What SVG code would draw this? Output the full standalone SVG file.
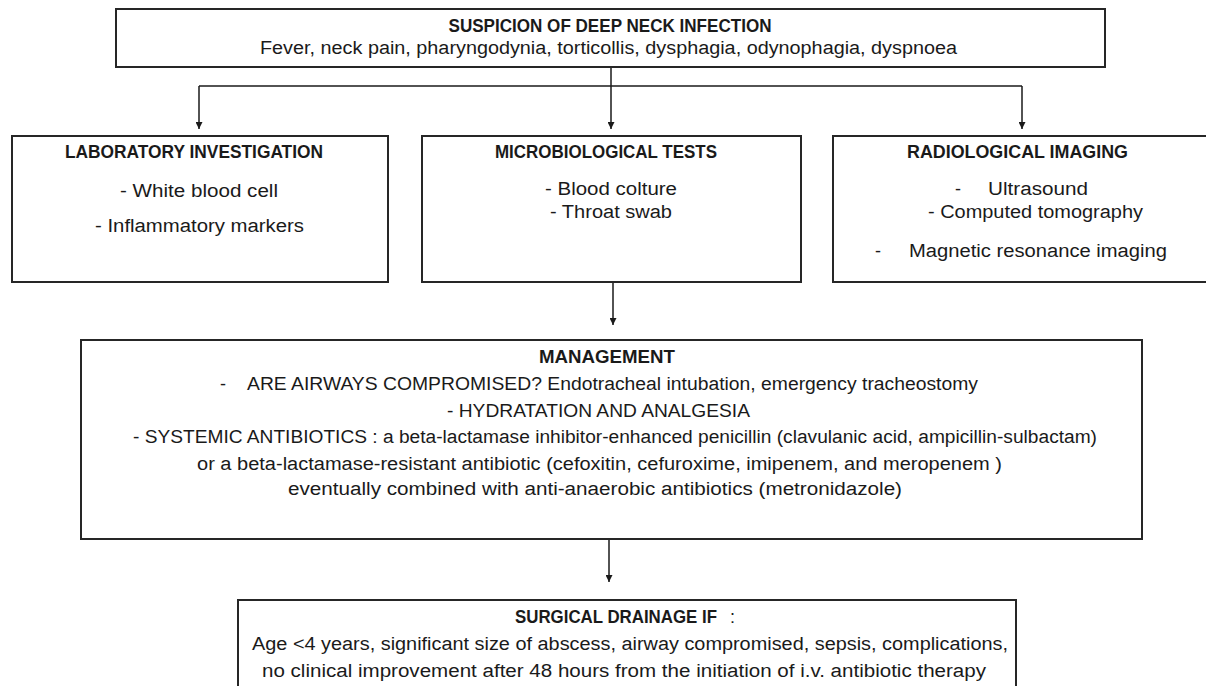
<svg xmlns="http://www.w3.org/2000/svg" width="1206" height="686" viewBox="0 0 1206 686">
<style>
.box{fill:#fff;stroke:#262626;stroke-width:2}
.t{font-family:"Liberation Sans",Arial,sans-serif;font-size:18px;fill:#1a1a1a}
.b{font-weight:bold}
.c{text-anchor:middle}
.ln{fill:none;stroke:#1a1a1a;stroke-width:1.5}
</style>
<defs>
<marker id="ah" viewBox="0 0 10 10" refX="10" refY="5" markerWidth="7" markerHeight="7" markerUnits="userSpaceOnUse" orient="auto">
<path d="M0,0 L10,5 L0,10 z" fill="#1a1a1a"/>
</marker>
</defs>
<rect width="1206" height="686" fill="#fff"/>
<g id="connectors">
<path class="ln" d="M611,67 V129" marker-end="url(#ah)"/>
<path class="ln" d="M199,86 H1022"/>
<path class="ln" d="M199,86 V129" marker-end="url(#ah)"/>
<path class="ln" d="M1022,86 V129" marker-end="url(#ah)"/>
<path class="ln" d="M613,282 V325" marker-end="url(#ah)"/>
<path class="ln" d="M609,539 V582" marker-end="url(#ah)"/>
</g>
<g id="suspicion">
<rect class="box" x="116" y="9" width="989" height="58"/>
<text class="t b c" x="610" y="32" textLength="323" lengthAdjust="spacingAndGlyphs">SUSPICION OF DEEP NECK INFECTION</text>
<text class="t" x="260" y="54" textLength="697" lengthAdjust="spacingAndGlyphs">Fever, neck pain, pharyngodynia, torticollis, dysphagia, odynophagia, dyspnoea</text>
</g>
<g id="laboratory">
<rect class="box" x="12" y="136" width="376" height="146"/>
<text class="t b" x="65" y="158" textLength="258" lengthAdjust="spacingAndGlyphs">LABORATORY INVESTIGATION</text>
<text class="t" x="120" y="197" textLength="158" lengthAdjust="spacingAndGlyphs">- White blood cell</text>
<text class="t" x="95" y="232" textLength="209" lengthAdjust="spacingAndGlyphs">- Inflammatory markers</text>
</g>
<g id="microbiological">
<rect class="box" x="422" y="136" width="379" height="146"/>
<text class="t b" x="495" y="158" textLength="222" lengthAdjust="spacingAndGlyphs">MICROBIOLOGICAL TESTS</text>
<text class="t" x="545" y="195" textLength="132" lengthAdjust="spacingAndGlyphs">- Blood colture</text>
<text class="t" x="550" y="218" textLength="122" lengthAdjust="spacingAndGlyphs">- Throat swab</text>
</g>
<g id="radiological">
<rect class="box" x="833" y="136" width="380" height="146"/>
<text class="t b" x="907" y="158" textLength="221" lengthAdjust="spacingAndGlyphs">RADIOLOGICAL IMAGING</text>
<text class="t" x="955" y="195">-</text>
<text class="t" x="988" y="195" textLength="100" lengthAdjust="spacingAndGlyphs">Ultrasound</text>
<text class="t" x="928" y="218" textLength="215" lengthAdjust="spacingAndGlyphs">- Computed tomography</text>
<text class="t" x="875" y="257">-</text>
<text class="t" x="909" y="257" textLength="258" lengthAdjust="spacingAndGlyphs">Magnetic resonance imaging</text>
</g>
<g id="management">
<rect class="box" x="81" y="340" width="1061" height="199"/>
<text class="t b" x="539" y="363" textLength="136" lengthAdjust="spacingAndGlyphs">MANAGEMENT</text>
<text class="t" x="220" y="390">-</text>
<text class="t" x="247" y="390" textLength="731" lengthAdjust="spacingAndGlyphs">ARE AIRWAYS COMPROMISED?  Endotracheal intubation, emergency tracheostomy</text>
<text class="t" x="447" y="417" textLength="303" lengthAdjust="spacingAndGlyphs">- HYDRATATION AND ANALGESIA</text>
<text class="t" x="133" y="443" textLength="964" lengthAdjust="spacingAndGlyphs">- SYSTEMIC ANTIBIOTICS : a beta-lactamase inhibitor-enhanced penicillin (clavulanic acid, ampicillin-sulbactam)</text>
<text class="t" x="197" y="470" textLength="805" lengthAdjust="spacingAndGlyphs">or a beta-lactamase-resistant antibiotic (cefoxitin, cefuroxime, imipenem, and meropenem )</text>
<text class="t" x="288" y="495" textLength="614" lengthAdjust="spacingAndGlyphs">eventually combined with anti-anaerobic antibiotics (metronidazole)</text>
</g>
<g id="surgical">
<rect class="box" x="238" y="600" width="778" height="100"/>
<text class="t b" x="515" y="623" textLength="202" lengthAdjust="spacingAndGlyphs">SURGICAL DRAINAGE IF</text>
<text class="t" x="730" y="623">:</text>
<text class="t" x="252" y="650" textLength="756" lengthAdjust="spacingAndGlyphs">Age &lt;4  years, significant size of abscess, airway compromised, sepsis, complications,</text>
<text class="t" x="262" y="677" textLength="724" lengthAdjust="spacingAndGlyphs">no clinical improvement after 48 hours from the initiation of i.v. antibiotic therapy</text>
</g>
</svg>
